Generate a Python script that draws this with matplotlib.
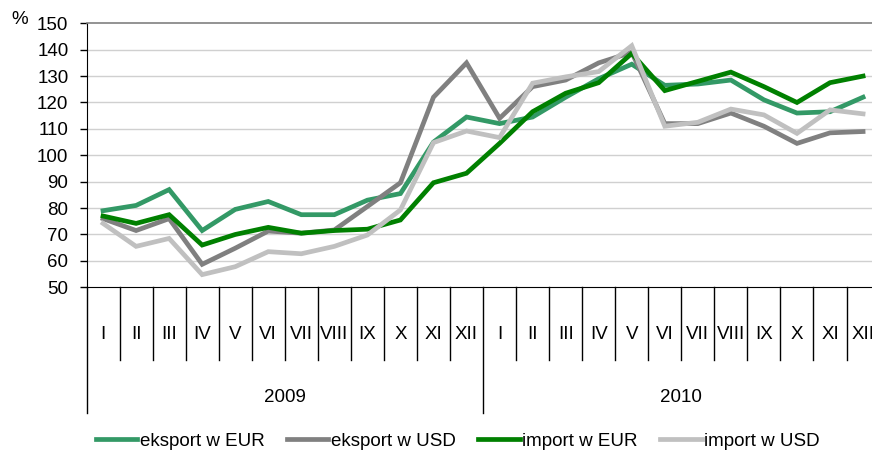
import matplotlib
matplotlib.use('Agg')
import matplotlib.pyplot as plt

# dane (%)
months = ['I', 'II', 'III', 'IV', 'V', 'VI', 'VII', 'VIII', 'IX', 'X', 'XI', 'XII']
years = ['2009', '2010']

eksport_eur = [79, 81, 87, 71.5, 79.5, 82.5, 77.5, 77.5, 83, 85.5, 105, 114.5,
               112, 114.5, 122, 129, 134.5, 126.5, 127, 128.5, 121, 116, 116.5, 122]
eksport_usd = [76, 71.5, 76, 58.7, 64.8, 71.3, 70.5, 71.7, 80.6, 89.6, 122, 135,
               114, 126, 128.5, 135, 139, 112, 112, 116, 111, 104.5, 108.5, 109]
import_eur = [77, 74.2, 77.5, 66, 70, 72.7, 70.5, 71.5, 72, 75.5, 89.6, 93.2,
              104.5, 116.5, 123.5, 127.5, 138.6, 124.5, 128, 131.5, 126, 120, 127.5, 130]
import_usd = [74.2, 65.5, 68.5, 54.8, 57.8, 63.5, 62.7, 65.5, 69.8, 79.3, 104.8, 109.2,
              106.7, 127.3, 129.7, 131.7, 141.5, 111, 112.5, 117.5, 115.3, 108.3, 117.2, 115.7]

series = [
    ('eksport w EUR', eksport_eur, '#339966'),
    ('eksport w USD', eksport_usd, '#808080'),
    ('import w EUR', import_eur, '#008000'),
    ('import w USD', import_usd, '#c0c0c0'),
]

plt.rcParams['font.family'] = ['Liberation Sans', 'DejaVu Sans']
fs = 13.5

fig = plt.figure(figsize=(8.72, 4.53), dpi=100)
ax = fig.add_axes([0.0992, 0.3658, 0.9095, 0.5828])

n = len(months) * len(years)
xs = [i + 0.5 for i in range(n)]
for label, vals, color in series:
    ax.plot(xs, vals, color=color, lw=3.4, label=label, solid_joinstyle='miter')

ax.set_xlim(0, n)
ax.set_ylim(50, 150)
ax.set_yticks(range(50, 151, 10))
ax.tick_params(axis='y', direction='out', length=5, width=1, pad=8,
               labelsize=fs, colors='black')
ax.set_xticks([])
for v in range(60, 150, 10):
    ax.axhline(v, color='#d0d0d0', lw=1, zorder=0)

ax.spines['right'].set_visible(False)
ax.spines['top'].set_color('#808080')
ax.spines['top'].set_linewidth(1.2)
ax.spines['left'].set_color('black')
ax.spines['bottom'].set_color('black')

# opisy osi X: miesiące i lata
tr = ax.get_xaxis_transform()
for i in range(n + 1):
    low = -0.477 if i % 12 == 0 else -0.2765
    ax.plot([i, i], [0, low], color='black', lw=1, transform=tr, clip_on=False)
for i in range(n):
    ax.text(i + 0.5, -0.18, months[i % 12], transform=tr, ha='center', va='center',
            fontsize=fs)
for k, y in enumerate(years):
    ax.text(k * 12 + 6, -0.417, y, transform=tr, ha='center', va='center', fontsize=fs)

fig.text(0.013, 0.957, '%', fontsize=fs, ha='left', va='center')

fig.legend(loc='center', bbox_to_anchor=(0.525, 0.026), ncol=4, frameon=False,
           fontsize=fs, handlelength=2.2, handletextpad=0.15, columnspacing=1.2,
           borderaxespad=0)

fig.savefig('out.png', dpi=100)
